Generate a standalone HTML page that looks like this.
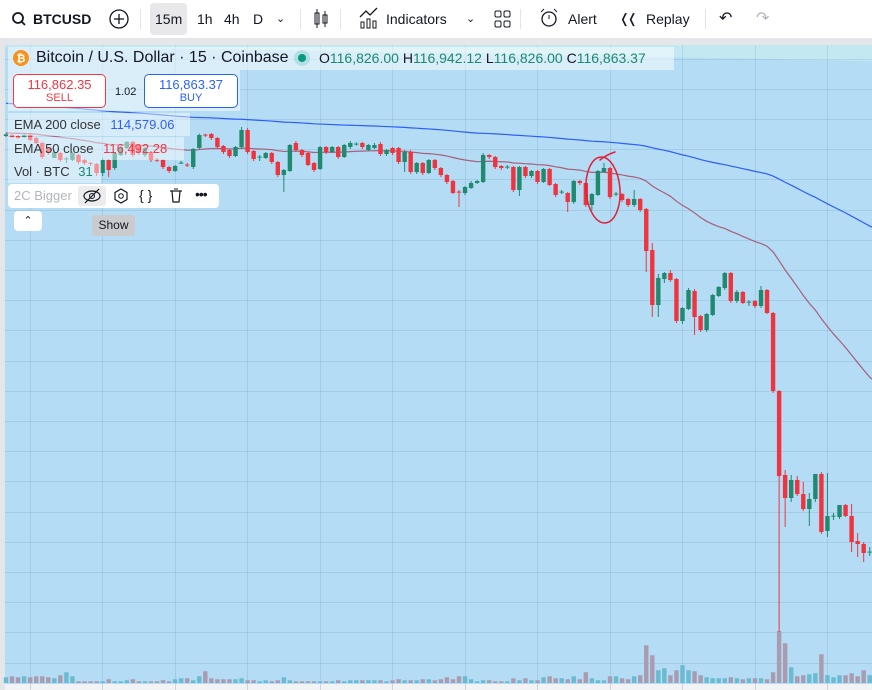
<!DOCTYPE html>
<html><head><meta charset="utf-8">
<style>
*{margin:0;padding:0;box-sizing:border-box}
body{width:872px;height:690px;overflow:hidden;background:#fff;font-family:"Liberation Sans",sans-serif;position:relative}
#toolbar{position:absolute;left:0;top:0;width:872px;height:38px;background:#fff}
.tb{position:absolute;top:0;height:38px;line-height:38px;font-size:14px;color:#131722}
.sep{position:absolute;top:9px;width:1px;height:20px;background:#e0e3eb}
#chart{position:absolute;left:0;top:38px}
.leg{position:absolute;background:rgba(255,255,255,0.45)}
.lt{position:absolute;font-size:13px;color:#333;white-space:nowrap}
</style></head><body>
<div id="toolbar">
  <svg class="tb" style="left:10px" width="18" height="38"><circle cx="8" cy="18" r="5" fill="none" stroke="#131722" stroke-width="1.8"/><line x1="11.5" y1="21.5" x2="15" y2="25" stroke="#131722" stroke-width="1.8"/></svg>
  <div class="tb" style="left:33px;font-weight:bold">BTCUSD</div>
  <svg class="tb" style="left:108px" width="22" height="38"><circle cx="11" cy="19" r="9" fill="none" stroke="#131722" stroke-width="1.3"/><line x1="11" y1="14" x2="11" y2="24" stroke="#131722" stroke-width="1.3"/><line x1="6" y1="19" x2="16" y2="19" stroke="#131722" stroke-width="1.3"/></svg>
  <div class="sep" style="left:140px"></div>
  <div style="position:absolute;left:150px;top:3px;width:37px;height:32px;background:#e8e8ea;border-radius:4px"></div>
  <div class="tb" style="left:155px">15m</div>
  <div class="tb" style="left:197px">1h</div>
  <div class="tb" style="left:224px">4h</div>
  <div class="tb" style="left:253px">D</div>
  <div class="tb" style="left:276px;font-size:11px">&#8964;</div>
  <div class="sep" style="left:300px"></div>
  <svg class="tb" style="left:312px" width="18" height="38"><rect x="3" y="13" width="4" height="11" fill="none" stroke="#131722"/><line x1="5" y1="9" x2="5" y2="28" stroke="#131722"/><rect x="11" y="15" width="4" height="8" fill="none" stroke="#131722"/><line x1="13" y1="11" x2="13" y2="27" stroke="#131722"/></svg>
  <div class="sep" style="left:340px"></div>
  <svg class="tb" style="left:358px" width="22" height="38"><polyline points="2,17 8,11 12,15 19,8" fill="none" stroke="#131722" stroke-width="1.3"/><rect x="3" y="22" width="3" height="6" fill="none" stroke="#131722"/><rect x="9" y="19" width="3" height="9" fill="none" stroke="#131722"/><rect x="15" y="21" width="3" height="7" fill="none" stroke="#131722"/></svg>
  <div class="tb" style="left:386px">Indicators</div>
  <div class="tb" style="left:466px;font-size:11px">&#8964;</div>
  <svg class="tb" style="left:494px" width="18" height="38"><rect x="1" y="11" width="6" height="6" rx="1.5" fill="none" stroke="#131722"/><rect x="10" y="11" width="6" height="6" rx="1.5" fill="none" stroke="#131722"/><rect x="1" y="21" width="6" height="6" rx="1.5" fill="none" stroke="#131722"/><rect x="10" y="21" width="6" height="6" rx="1.5" fill="none" stroke="#131722"/></svg>
  <div class="sep" style="left:520px"></div>
  <svg class="tb" style="left:538px" width="22" height="38"><circle cx="11" cy="19" r="7" fill="none" stroke="#131722" stroke-width="1.3"/><line x1="11" y1="15" x2="11" y2="19" stroke="#131722"/><line x1="3" y1="12" x2="6" y2="9" stroke="#131722"/><line x1="19" y1="12" x2="16" y2="9" stroke="#131722"/></svg>
  <div class="tb" style="left:568px">Alert</div>
  <div class="tb" style="left:619px;font-size:13px;letter-spacing:-3px">&#10092;&#10092;</div>
  <div class="tb" style="left:646px">Replay</div>
  <div class="sep" style="left:705px"></div>
  <div class="tb" style="left:719px;font-size:16px">&#8630;</div>
  <div class="tb" style="left:756px;font-size:16px;color:#b2b5be">&#8631;</div>
</div>

<svg id="chart" width="872" height="652"></svg>

<div class="leg" style="left:8px;top:47px;width:666px;height:23px;background:rgba(255,255,255,0.5)"></div>
<div class="leg" style="left:8px;top:70px;width:232px;height:41px;background:rgba(255,255,255,0.5)"></div>
<svg style="position:absolute;left:12px;top:49px" width="18" height="18"><circle cx="9" cy="9" r="8" fill="#f7931a"/><text x="9" y="13" font-size="11" font-weight="bold" fill="#fff" text-anchor="middle" font-family="Liberation Sans">₿</text></svg>
<div class="lt" style="left:36px;top:49px;font-size:16px;color:#131722">Bitcoin / U.S. Dollar · 15 · Coinbase</div>
<svg style="position:absolute;left:293px;top:50px" width="18" height="18"><circle cx="9" cy="8" r="8" fill="rgba(8,153,129,0.18)"/><circle cx="9" cy="8" r="4" fill="#089981"/></svg>
<div class="lt" style="left:319px;top:50px;font-size:14px;color:#1a8a70"><span style="color:#131722">O</span>116,826.00 <span style="color:#131722">H</span>116,942.12 <span style="color:#131722">L</span>116,826.00 <span style="color:#131722">C</span>116,863.37</div>
<div style="position:absolute;left:13px;top:74px;width:93px;height:34px;border:1px solid #f23645;border-radius:5px;background:#fff;text-align:center;color:#f23645"><div style="font-size:13px;margin-top:2px">116,862.35</div><div style="font-size:11px">SELL</div></div>
<div class="lt" style="left:115px;top:86px;font-size:11px;color:#131722">1.02</div>
<div style="position:absolute;left:144px;top:74px;width:94px;height:34px;border:1px solid #2962ff;border-radius:5px;background:#fff;text-align:center;color:#2962ff"><div style="font-size:13px;margin-top:2px">116,863.37</div><div style="font-size:11px">BUY</div></div>
<div class="leg" style="left:8px;top:113px;width:182px;height:23px"></div>
<div class="lt" style="left:14px;top:117px">EMA 200 close <span style="color:#2f5cff;margin-left:6px">114,579.06</span></div>
<div class="leg" style="left:8px;top:137px;width:176px;height:23px"></div>
<div class="lt" style="left:14px;top:141px">EMA 50 close <span style="color:#f23645;margin-left:6px">116,492.28</span></div>
<div class="leg" style="left:8px;top:160px;width:93px;height:23px"></div>
<div class="lt" style="left:14px;top:164px">Vol · BTC <span style="color:#1a8a70;margin-left:5px">31</span></div>
<div style="position:absolute;left:8px;top:184px;width:211px;height:24px;background:#fff;border-radius:4px"></div>
<div class="lt" style="left:14px;top:188px;color:#b2b5be">2C Bigger</div>
<div style="position:absolute;left:78px;top:186px;width:28px;height:20px;background:#ececec;border-radius:3px"></div>
<svg style="position:absolute;left:82px;top:187px" width="20" height="18"><ellipse cx="10" cy="9" rx="8" ry="5" fill="none" stroke="#131722" stroke-width="1.2"/><circle cx="10" cy="9" r="2.5" fill="none" stroke="#131722"/><line x1="3" y1="16" x2="17" y2="2" stroke="#131722" stroke-width="1.2"/></svg>
<svg style="position:absolute;left:112px;top:187px" width="18" height="18"><polygon points="9,2 15,5.5 15,12.5 9,16 3,12.5 3,5.5" fill="none" stroke="#131722" stroke-width="1.2"/><circle cx="9" cy="9" r="2.3" fill="none" stroke="#131722"/></svg>
<div class="lt" style="left:139px;top:187px;font-size:14px;color:#131722">{ }</div>
<svg style="position:absolute;left:168px;top:187px" width="16" height="18"><line x1="2" y1="4" x2="14" y2="4" stroke="#131722" stroke-width="1.2"/><path d="M4 4 L5 15 L11 15 L12 4" fill="none" stroke="#131722" stroke-width="1.2"/><line x1="6" y1="2" x2="10" y2="2" stroke="#131722"/></svg>
<div class="lt" style="left:195px;top:186px;font-size:14px;color:#131722;letter-spacing:-1px">•••</div>
<div style="position:absolute;left:14px;top:211px;width:28px;height:20px;background:#fff;border-radius:4px;text-align:center;font-size:11px;line-height:20px;color:#131722">&#8963;</div>
<div style="position:absolute;left:92px;top:215px;width:43px;height:21px;background:#c9cbcf;border-radius:3px;text-align:center;font-size:12px;line-height:21px;color:#131722">Show</div>

<script>
const opens=[117020,117025,117020,117015,117025,117010,116985,116960,116910,116935,
116903,116900,116925,116900,116885,116880,116835,116900,116860,116925,
116960,116990,116975,116925,116940,116902,116900,116865,116845,116883,
116877,116865,116960,117027,117030,117010,116970,116950,116920,116965,
117050,116945,116913,116910,116935,116890,116825,116845,116985,116950,
116935,116885,116855,116965,116940,116965,116915,116965,116978,116985,
116950,116960,116980,116930,116960,116960,116890,116940,116840,116885,
116835,116900,116860,116825,116795,116742,116735,116760,116785,116790,
116925,116915,116870,116863,116865,116750,116865,116820,116845,116790,
116855,116780,116738,116735,116690,116795,116785,116675,116725,116840,
116860,116728,116730,116705,116675,116705,116655,116450,116175,116305,
116335,116305,116095,116155,116245,116120,116050,116125,116220,116260,
116335,116195,116240,116188,116195,116170,116250,116135,115745,115325,
115210,115300,115230,115155,115205,115330,115045,115118,115115,115175,
115120,114995,114980,114938];
const closes=[117028,117015,117010,117025,117000,116985,116915,116935,116940,116900,
116908,116935,116890,116885,116880,116835,116900,116850,116935,116965,
116990,116925,116935,116960,116900,116898,116865,116845,116870,116887,
116873,116955,117025,117023,117010,116965,116940,116920,116965,117050,
116940,116905,116917,116935,116890,116825,116850,116975,116950,116925,
116875,116850,116965,116940,116965,116915,116975,116985,116982,116965,
116975,116975,116930,116950,116935,116890,116940,116840,116885,116835,
116900,116860,116825,116790,116735,116738,116765,116785,116795,116925,
116915,116865,116860,116867,116750,116865,116820,116845,116790,116855,
116775,116725,116742,116690,116795,116785,116675,116730,116845,116860,
116715,116732,116700,116675,116705,116650,116445,116175,116310,116335,
116300,116095,116160,116250,116115,116050,116130,116225,116265,116335,
116195,116240,116185,116192,116170,116250,116135,115745,115320,115210,
115300,115230,115155,115205,115330,115040,115120,115122,115175,115120,
114990,114980,114935,114942];
const highs=[117035,117032,117025,117030,117030,117015,116990,116965,116950,116940,
116915,116940,116930,116905,116890,116885,116910,116905,116940,116970,
116995,116995,116980,116965,116945,116910,116905,116870,116875,116895,
116885,116960,117032,117032,117035,117015,116975,116955,116970,117065,
117060,116950,116925,116940,116940,116895,116855,116980,116995,116955,
116940,116890,116970,116970,116970,116970,116980,116995,116988,116990,
116980,116985,116990,116955,116965,116965,116950,116950,116890,116890,
116905,116905,116865,116830,116800,116750,116770,116795,116800,116935,
116930,116920,116875,116875,116870,116870,116870,116850,116850,116860,
116860,116785,116750,116740,116800,116800,116790,116735,116850,116885,
116865,116740,116735,116710,116750,116710,116660,116485,116330,116340,
116350,116310,116165,116260,116255,116125,116135,116230,116270,116340,
116340,116250,116245,116198,116200,116270,116255,116140,115750,115350,
115325,115320,115290,115235,115210,115340,115335,115135,115125,115180,
115180,115035,114990,114965];
const lows=[117015,117010,117005,117010,116995,116980,116905,116925,116930,116890,
116885,116895,116880,116875,116870,116820,116820,116815,116850,116920,
116955,116915,116925,116915,116890,116890,116855,116835,116840,116880,
116865,116855,116955,117015,117000,116955,116930,116910,116915,116955,
116930,116895,116895,116905,116880,116815,116740,116840,116940,116915,
116870,116840,116850,116930,116935,116905,116910,116955,116972,116955,
116945,116955,116920,116920,116925,116880,116840,116830,116830,116825,
116830,116850,116815,116780,116730,116665,116725,116755,116780,116785,
116905,116855,116850,116855,116740,116720,116810,116810,116780,116785,
116770,116715,116730,116640,116680,116775,116665,116650,116720,116835,
116705,116720,116690,116665,116665,116640,116340,116115,116115,116285,
116290,116085,116080,116150,116025,116040,116040,116120,116215,116250,
116185,116185,116180,116170,116160,116160,116130,115735,114540,115065,
115190,115220,115145,115070,115190,115030,115015,115100,115105,115115,
114940,114915,114890,114920];
const volumes=[23,27,23,27,23,27,27,23,19,31,
43,27,7,7,7,7,7,15,7,7,
11,15,7,7,7,7,11,7,15,19,
19,11,27,47,19,15,15,15,15,19,
11,11,7,11,7,11,23,11,7,7,
7,7,7,7,7,11,7,11,11,11,
11,11,11,7,11,15,11,11,11,15,
15,11,15,23,15,27,27,15,7,11,
11,7,7,7,19,11,19,11,11,23,
27,19,19,15,27,15,43,19,11,11,
27,27,19,15,27,31,151,111,51,59,
31,51,71,51,47,31,23,19,19,19,
23,19,15,19,19,19,15,43,208,159,
63,27,31,35,39,115,31,23,31,31,
39,27,51,31];
const ema200Seed=117185;
const ema50Seed=117035;

const NS='http://www.w3.org/2000/svg';
const svg=document.getElementById('chart');
const OFF=38;
const xScale=i=>6+6.04*i;
const yScale=p=>(117700-p)/5-OFF;
const volBase=683-OFF;
const vScale=v=>v/4;
function mk(tag,attrs){const e=document.createElementNS(NS,tag);for(const k in attrs)e.setAttribute(k,attrs[k]);svg.appendChild(e);return e;}

let bg=mk('rect',{x:0,y:0,width:872,height:652,fill:'#e4e6ea'});


let pane=mk('rect',{x:5,y:7,width:867,height:639,fill:'#b4dcf4'});


let band=mk('polygon',{points:'5,7 872,7 872,23 560,17 200,11 5,9',fill:'#c3e8f1'});


let foot=mk('rect',{x:5,y:646,width:867,height:6,fill:'#f2f3f5'});



for(let k=0;k<12;k++){const gx=Math.round(30+72.45*k)+0.5;
  const g=mk('line',{x1:gx,y1:7,x2:gx,y2:646,stroke:'rgba(60,100,140,0.13)','stroke-width':1});
  
  
  const t=mk('line',{x1:gx,y1:646,x2:gx,y2:652,stroke:'#d0d3d8'});
  
  }
for(let k=0;k<21;k++){const gy=Math.round(58.6+30.2*k-OFF)+0.5;
  const g=mk('line',{x1:5,y1:gy,x2:872,y2:gy,stroke:'rgba(60,100,140,0.13)','stroke-width':1});
  
  }

for(let i=0;i<volumes.length;i++){const up=closes[i]>=opens[i];const h=vScale(volumes[i]);
  const r=mk('rect',{x:xScale(i)-2.2,y:volBase-h,width:4.4,height:h,fill:up?'#6abbd0':'#a99cb1'});
  
  }

function ema(seed,n){const a=2/(n+1);let e=seed;const out=[];for(const c of closes){e=e+a*(c-e);out.push(e);}return out;}
const e200=ema(ema200Seed,200),e50=ema(ema50Seed,50);
let l200=mk('polyline',{points:e200.map((v,i)=>xScale(i)+','+yScale(v)).join(' ')+' 872,'+(yScale(e200[e200.length-1])+1),fill:'none',stroke:'#2f5cff','stroke-width':1.2});


let l50=mk('polyline',{points:e50.map((v,i)=>xScale(i)+','+yScale(v)).join(' ')+' 872,'+(yScale(e50[e50.length-1])+2),fill:'none',stroke:'#a85f7c','stroke-width':1.2});



for(let i=0;i<opens.length;i++){const up=closes[i]>=opens[i];const col=up?'#1f8a70':'#f0343f';const x=xScale(i);
  const w=mk('line',{x1:x,y1:yScale(highs[i]),x2:x,y2:yScale(lows[i]),stroke:col,'stroke-width':1});
  
  
  const top=yScale(Math.max(opens[i],closes[i]));const bot=yScale(Math.min(opens[i],closes[i]));
  const b=mk('rect',{x:x-2.2,y:top,width:4.4,height:Math.max(1,bot-top),fill:col});
  
  }

let circ=mk('ellipse',{cx:603,cy:190-OFF,rx:17,ry:33,fill:'none',stroke:'#e0203a','stroke-width':1.5,transform:'rotate(-4 603 '+(190-OFF)+')'});


let arr=mk('path',{d:'M600 '+(160-OFF)+' Q606 '+(155-OFF)+' 615 '+(152-OFF),fill:'none',stroke:'#e0203a','stroke-width':1.5,'stroke-linecap':'round'});


</script>
</body></html>
